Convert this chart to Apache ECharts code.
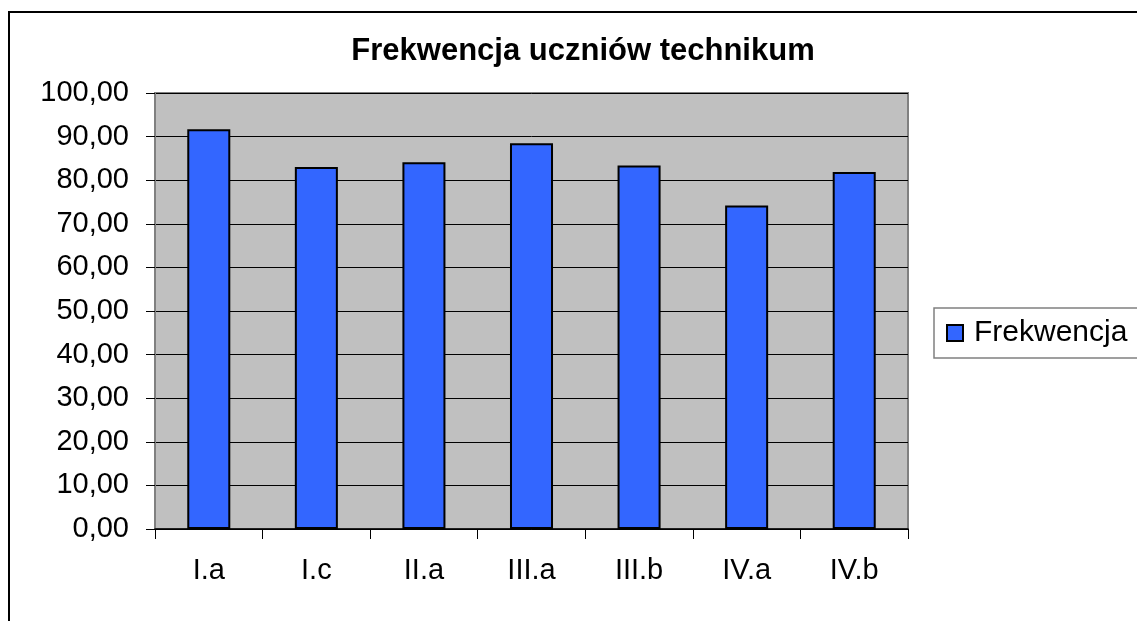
<!DOCTYPE html>
<html>
<head>
<meta charset="utf-8">
<script src="https://cdn.jsdelivr.net/npm/echarts@6/dist/echarts.min.js"></script>
<style>
html, body { margin: 0; padding: 0; background: #fff; }
#chart { width: 1137px; height: 621px; }
</style>
</head>
<body>
<div id="chart"></div>
<script>
// dane z wykresu
const categories = ['I.a', 'I.c', 'II.a', 'III.a', 'III.b', 'IV.a', 'IV.b'];
const frekwencja = [91.7, 83.0, 84.1, 88.5, 83.4, 74.2, 81.9];
const yTickLabels = ['0,00', '10,00', '20,00', '30,00', '40,00', '50,00', '60,00', '70,00', '80,00', '90,00', '100,00'];

const font = 'Liberation Sans, Arial, sans-serif';

const chart = echarts.init(document.getElementById('chart'));
const option = {
  animation: false,
  backgroundColor: '#fff',
  title: {
    text: 'Frekwencja uczniów technikum',
    left: 578,
    textAlign: 'center',
    top: 31,
    textStyle: { fontFamily: font, fontSize: 31, fontWeight: 'bold', color: '#000' }
  },
  legend: {
    data: ['Frekwencja'],
    left: 934,
    top: 308,
    padding: [10, 12, 10, 12],
    icon: 'rect',
    itemWidth: 16,
    itemHeight: 16,
    borderColor: '#808080',
    borderWidth: 1.5,
    backgroundColor: '#fff',
    textStyle: { fontFamily: font, fontSize: 30, color: '#000', padding: [0, 0, 0, 6] }
  },
  grid: {
    left: 155,
    right: 229,
    top: 93,
    bottom: 92,
    show: true,
    backgroundColor: '#c0c0c0',
    borderColor: '#808080',
    borderWidth: 2
  },
  xAxis: {
    type: 'category',
    data: categories,
    axisLine: { lineStyle: { color: '#000', width: 1.5 } },
    axisTick: { show: true, length: 10, alignWithLabel: false, lineStyle: { color: '#000' } },
    axisLabel: { fontFamily: font, fontSize: 29, color: '#000', margin: 27 }
  },
  yAxis: {
    type: 'value',
    min: 0,
    max: 100,
    interval: 10,
    axisLine: { show: true, lineStyle: { color: '#808080', width: 2 } },
    axisTick: { show: true, length: 9, lineStyle: { color: '#000' } },
    splitLine: { lineStyle: { color: '#000', width: 1 } },
    axisLabel: {
      fontFamily: font, fontSize: 29, color: '#000', margin: 26,
      formatter: v => yTickLabels[Math.round(v / 10)]
    }
  },
  series: [
    {
      name: 'Frekwencja',
      type: 'bar',
      data: frekwencja,
      barWidth: '40%',
      itemStyle: { color: '#3366ff', borderColor: '#000', borderWidth: 2 }
    }
  ],
  graphic: [
    {
      type: 'rect',
      shape: { x: 9, y: 12, width: 1200, height: 700 },
      style: { fill: 'none', stroke: '#000', lineWidth: 2 },
      silent: true,
      z: 100
    }
  ]
};
chart.setOption(option);
</script>
</body>
</html>
